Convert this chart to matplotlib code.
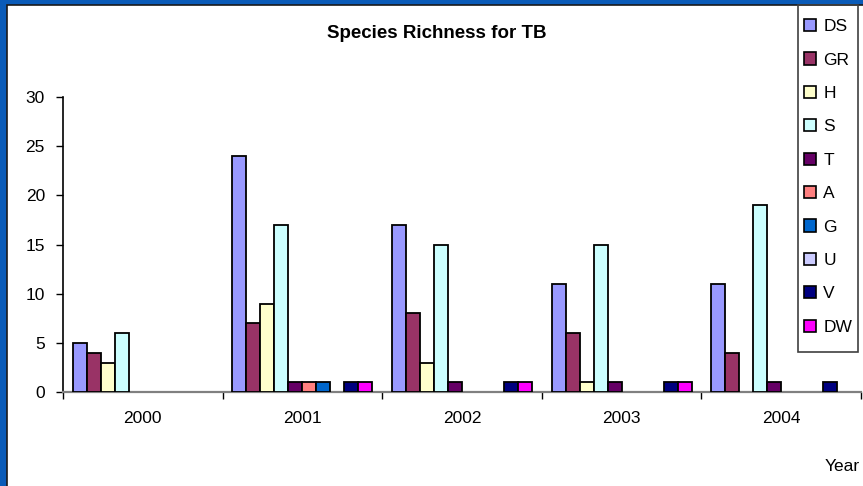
import matplotlib.pyplot as plt
import numpy as np
from matplotlib.patches import Rectangle

plt.rcParams['font.family'] = ['Liberation Sans', 'DejaVu Sans']

# -----------------------------
# Data
# -----------------------------
years = ["2000", "2001", "2002", "2003", "2004"]
series = ["DS", "GR", "H", "S", "T", "A", "G", "U", "V", "DW"]

DS = [5, 24, 17, 11, 11]
GR = [4, 7, 8, 6, 4]
H = [3, 9, 3, 1, 0]
S = [6, 17, 15, 15, 19]
T = [0, 1, 1, 1, 1]
A = [0, 1, 0, 0, 0]
G = [0, 1, 0, 0, 0]
U = [0, 0, 0, 0, 0]
V = [0, 1, 1, 1, 1]
DW = [0, 1, 1, 1, 0]

colors = ["#9999FF", "#993366", "#FFFFCC", "#CCFFFF", "#660066",
          "#FF8080", "#0066CC", "#CCCCFF", "#000080", "#FF00FF"]

values = [DS, GR, H, S, T, A, G, U, V, DW]

# -----------------------------
# Figure / frame
# -----------------------------
fig = plt.figure(figsize=(8.63, 4.86), dpi=100)
fig.patch.set_facecolor("#0A5BB8")
W, Hh = 863, 486
fig.patches.append(Rectangle((7 / W, -0.1), 1.2, (Hh - 5) / Hh + 0.1,
                             transform=fig.transFigure, facecolor="white",
                             edgecolor="#1a1a1a", linewidth=1.2, zorder=-10))
# legend box
fig.patches.append(Rectangle((798 / W, 1 - 352 / Hh), 60 / W, 347 / Hh,
                             transform=fig.transFigure, facecolor="none",
                             edgecolor="#404040", linewidth=1.2, zorder=5))

ax = fig.add_axes([63 / W, 1 - 392 / Hh, (861 - 63) / W, (392 - 97) / Hh])
ax.set_facecolor("none")

n = len(series)
bw = 0.877 / n
x0 = np.arange(len(years))
for i, (name, vals, c) in enumerate(zip(series, values, colors)):
    xs = x0 + 0.0615 + i * bw
    v = np.array(vals, dtype=float)
    mask = v > 0
    ax.bar(xs[mask], v[mask], width=bw, align="edge", color=c,
           edgecolor="black", linewidth=1.3, zorder=3)
    # legend proxy
    ax.bar([0], [0], width=0, color=c, edgecolor="black", linewidth=1.2,
           label=name)

ax.set_xlim(0, len(years))
ax.set_ylim(0, 30)
ax.set_yticks(range(0, 31, 5))
ax.set_xticks(np.arange(len(years) + 1))
ax.set_xticklabels([])
ax.set_xticks(x0 + 0.5, minor=True)
ax.set_xticklabels(years, minor=True)
ax.tick_params(axis="x", which="minor", length=0, pad=14, labelsize=12.5)
ax.tick_params(axis="x", which="major", direction="out", length=5,
               width=1, color="black")
ax.tick_params(axis="y", direction="out", length=5, width=1,
               labelsize=12.5, pad=8)

for s in ["top", "right"]:
    ax.spines[s].set_visible(False)
ax.spines["left"].set_color("black")
ax.spines["left"].set_linewidth(1.2)
ax.spines["bottom"].set_color("#808080")
ax.spines["bottom"].set_linewidth(1.6)

fig.text(437 / W, 1 - 34 / Hh, "Species Richness for TB", ha="center",
         va="center", fontsize=13.5, fontweight="bold")
fig.text(860 / W, 1 - 466 / Hh, "Year", ha="right", va="center",
         fontsize=12.5)

leg = fig.legend(loc="upper left", bbox_to_anchor=(798 / W, 1 - 13 / Hh),
                 frameon=False, fontsize=12.5, handlelength=0.7,
                 handleheight=0.7, handletextpad=0.4, labelspacing=1.05,
                 borderpad=0.35, borderaxespad=0)

fig.savefig("out.png", dpi=100, facecolor=fig.get_facecolor())
